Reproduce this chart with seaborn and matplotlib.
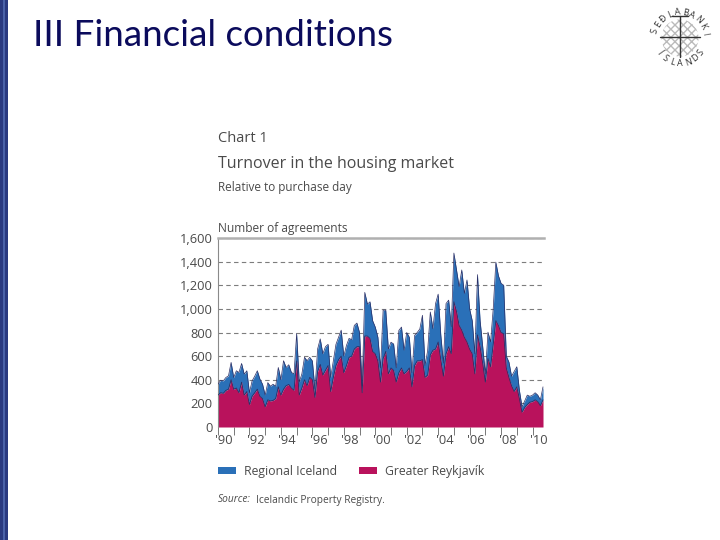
import numpy as np
import pandas as pd
import seaborn as sns
from matplotlib import pyplot as plt
from matplotlib.patches import Circle, Rectangle

W, H = 720, 540

# two-monthly readings, Jan 1990 to Sep 2010
total = [362, 396, 390, 419, 433, 547,
         419, 476, 462, 538, 447, 476,
         290, 390, 430, 476, 405, 362,
         270, 376, 345, 362, 345, 504,
         400, 561, 504, 527, 462, 450,
         790, 380, 450, 590, 561, 590,
         560, 320, 660, 746, 620, 680,
         700, 420, 560, 700, 760, 820,
         600, 690, 750, 740, 860, 880,
         800, 350, 1140, 1040, 1060, 900,
         846, 760, 500, 990, 990, 660,
         718, 703, 500, 818, 846, 650,
         800, 760, 460, 775, 800, 830,
         946, 520, 650, 974, 832, 1045,
         1125, 780, 540, 1045, 1074, 850,
         1473, 1330, 1188, 1330, 1130, 1245,
         1000, 900, 620, 1290, 900, 680,
         450, 803, 720, 1000, 1396, 1280,
         1216, 1200, 600, 550, 430, 470,
         510, 310, 170, 220, 270, 260,
         270, 290, 270, 230, 340]
reykjavik = [270, 290, 285, 310, 320, 400,
             320, 330, 290, 380, 270, 300,
             190, 260, 290, 320, 260, 240,
             170, 230, 220, 225, 240, 340,
             270, 320, 350, 360, 330, 310,
             560, 270, 330, 400, 350, 420,
             400, 250, 470, 530, 440, 480,
             520, 300, 420, 520, 570, 600,
             460, 520, 590, 600, 660, 680,
             680, 290, 770, 770, 750, 640,
             620, 560, 380, 580, 640, 450,
             500, 480, 380, 460, 500, 450,
             470, 500, 340, 520, 560, 560,
             570, 420, 440, 610, 650, 660,
             720, 570, 430, 620, 680, 620,
             1060, 980, 860, 820, 760, 720,
             660, 620, 450, 780, 680, 540,
             380, 580, 510, 700, 900, 860,
             800, 790, 500, 420, 350, 300,
             340, 240, 125, 165, 190, 210,
             215, 230, 215, 180, 230]
y_ticks = [0, 200, 400, 600, 800, 1000, 1200, 1400, 1600]
year_labels = ["'90", "'92", "'94", "'96", "'98", "'00", "'02", "'04", "'06", "'08", "'10"]
seal_top = "SEÐLABANKI"
seal_bottom = "ÍSLANDS"

df = pd.DataFrame({'date': 1990 + np.arange(len(total)) / 6, 'total': total, 'reykjavik': reykjavik})

sns.set_style('white')
plt.rcParams['font.family'] = ['Open Sans', 'DejaVu Sans']

BLUE = '#2a70b8'
RED = '#b9125c'
EDGE = '#2b2f66'
TXT = '#4a4a4a'

fig = plt.figure(figsize=(W / 100, H / 100), dpi=100)


def px_axes(x0, y0, x1, y1):
    return fig.add_axes([x0 / W, 1 - y1 / H, (x1 - x0) / W, (y1 - y0) / H])


def label(x, y, s, **kw):
    fig.text(x / W, 1 - y / H, s, va='center', ha=kw.pop('ha', 'left'), **kw)


# side strip
fig.add_artist(Rectangle((0, 0), 8 / W, 1, transform=fig.transFigure, color='#2a3a80', lw=0))
fig.add_artist(Rectangle((3 / W, 0), 1.5 / W, 1, transform=fig.transFigure, color='#4a62a8', lw=0))

label(33, 36, 'III Financial conditions', fontsize=26.5, color='#0b0b5c', family=['Lato', 'DejaVu Sans'])

# text above the chart
label(218, 139, 'Chart 1', fontsize=10.5, color=TXT)
label(218, 164, 'Turnover in the housing market', fontsize=11.5, color=TXT)
label(218, 187, 'Relative to purchase day', fontsize=8.5, color=TXT)
label(218, 228, 'Number of agreements', fontsize=8.6, color=TXT)

# chart
ax = px_axes(218, 238, 544, 427)
ax.fill_between(df['date'], df['reykjavik'], df['total'], color=BLUE, lw=0, zorder=2, label='Regional Iceland')
ax.fill_between(df['date'], 0, df['reykjavik'], color=RED, lw=0, zorder=2, label='Greater Reykjavík')
sns.lineplot(data=df, x='date', y='total', color=EDGE, lw=0.5, ax=ax, zorder=3)
sns.lineplot(data=df, x='date', y='reykjavik', color=EDGE, lw=0.6, ax=ax, zorder=3)

ax.set_xlim(1990, 2010.73)
ax.set_ylim(0, 1600)
ax.set_xlabel('')
ax.set_ylabel('')
ax.set_yticks(y_ticks)
ax.set_yticklabels([f'{v:,}' for v in y_ticks], fontsize=9.3, color=TXT)
ax.set_xticks(np.arange(1990, 2011))
ax.set_xticklabels([])
ax.set_xticks(np.arange(1990.4, 2011, 2), minor=True)
ax.set_xticklabels(year_labels, minor=True, fontsize=9.3, color=TXT)
ax.tick_params(axis='x', which='major', length=6, width=0.7, color='#777777', bottom=True)
ax.tick_params(axis='x', which='minor', length=0, pad=5, bottom=False)
ax.tick_params(axis='y', length=0, pad=4)
ax.grid(axis='y', color='#7d7d7d', lw=0.8, ls=(0, (4, 3)), zorder=1)
ax.set_axisbelow(True)
for side in ['right', 'bottom']:
    ax.spines[side].set_visible(False)
ax.spines['left'].set_color('#8a8a8a')
ax.spines['left'].set_linewidth(0.8)
ax.spines['top'].set_color('#b0b0b0')
ax.spines['top'].set_linewidth(1.8)

# legend
leg = ax.legend(loc='upper left', bbox_to_anchor=(218 / W, 1 - 465 / H), bbox_transform=fig.transFigure,
                ncol=2, frameon=False, fontsize=8.8, handlelength=1.47, handleheight=0.55,
                handletextpad=0.65, columnspacing=1.8, borderpad=0, borderaxespad=0, labelcolor=TXT)

label(218, 500, 'Source:', fontsize=7.3, color=TXT, style='italic')
label(256, 500, 'Icelandic Property Registry.', fontsize=7.3, color=TXT)

# seal, top right
seal = px_axes(648, 6, 712, 70)
seal.set_xlim(-1, 1)
seal.set_ylim(-1, 1)
seal.axis('off')
for ch, a in zip(seal_top, np.linspace(165, 10, len(seal_top))):
    t = np.radians(a)
    seal.text(0.8 * np.cos(t), 0.8 * np.sin(t), ch, fontsize=6.5, color='#333333',
              ha='center', va='center', rotation=a - 90)
for ch, a in zip(seal_bottom, np.linspace(215, 325, len(seal_bottom))):
    t = np.radians(a)
    seal.text(0.8 * np.cos(t), 0.8 * np.sin(t), ch, fontsize=6.5, color='#333333',
              ha='center', va='center', rotation=a + 90)
seal.add_patch(Circle((0, 0), 0.58, fc='none', ec='#777777', lw=0, hatch='xxxx', alpha=0.5))
seal.plot([-0.62, 0.62], [0.02, 0.02], color='#333333', lw=1)
seal.plot([0, 0], [-0.6, 0.7], color='#333333', lw=1)
seal.plot([-0.25, 0.25], [0.7, 0.7], color='#333333', lw=1)

fig.savefig('out.png', dpi=100)
